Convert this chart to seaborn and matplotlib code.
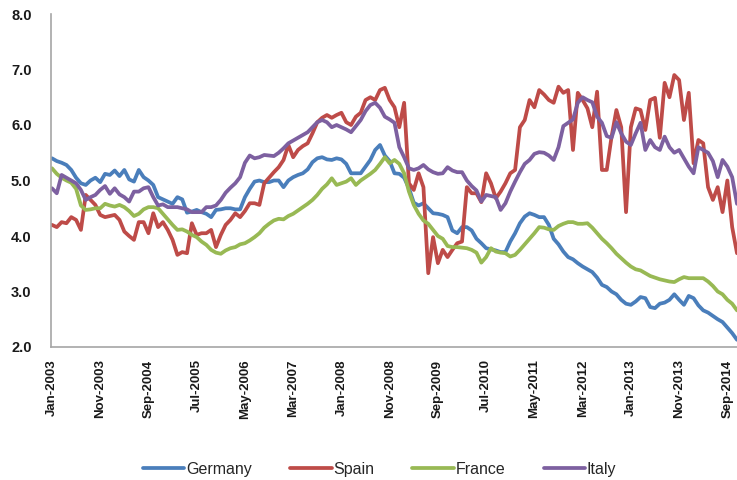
import numpy as np
import pandas as pd
import matplotlib
matplotlib.use("Agg")
import matplotlib.pyplot as plt
import seaborn as sns

# Monthly series, Jan-2003 onwards
months = pd.date_range("2003-01-01", periods=143, freq="MS").strftime("%b-%Y").tolist()

germany = [
    5.40, 5.35, 5.32, 5.28, 5.19, 5.05, 4.95, 4.92, 5.00, 5.05,
    4.97, 5.12, 5.10, 5.18, 5.08, 5.19, 5.02, 4.98, 5.19, 5.06,
    5.00, 4.92, 4.70, 4.66, 4.62, 4.58, 4.70, 4.66, 4.42, 4.44,
    4.47, 4.43, 4.40, 4.34, 4.47, 4.48, 4.50, 4.50, 4.48, 4.48,
    4.70, 4.85, 4.98, 5.00, 4.97, 4.97, 5.00, 5.00, 4.88, 5.00,
    5.06, 5.10, 5.13, 5.20, 5.33, 5.40, 5.42, 5.38, 5.37, 5.40,
    5.38, 5.30, 5.13, 5.13, 5.13, 5.25, 5.37, 5.55, 5.64, 5.45,
    5.35, 5.13, 5.12, 5.05, 4.86, 4.60, 4.55, 4.59, 4.50, 4.41,
    4.40, 4.38, 4.34, 4.10, 4.05, 4.16, 4.16, 4.10, 3.95, 3.87,
    3.78, 3.76, 3.74, 3.71, 3.71, 3.90, 4.05, 4.23, 4.35, 4.41,
    4.38, 4.34, 4.34, 4.20, 3.95, 3.85, 3.72, 3.62, 3.58, 3.51,
    3.45, 3.40, 3.35, 3.25, 3.12, 3.08, 3.00, 2.95, 2.85, 2.78,
    2.76, 2.82, 2.90, 2.88, 2.72, 2.70, 2.78, 2.80, 2.85, 2.95,
    2.85, 2.76, 2.92, 2.88, 2.75, 2.66, 2.62, 2.56, 2.50, 2.45,
    2.35, 2.25, 2.13,
]

spain = [
    4.20, 4.16, 4.25, 4.23, 4.34, 4.29, 4.11, 4.74, 4.65, 4.56,
    4.38, 4.34, 4.36, 4.38, 4.29, 4.08, 4.00, 3.93, 4.25, 4.25,
    4.05, 4.41, 4.16, 4.25, 4.11, 3.93, 3.66, 3.71, 3.69, 4.23,
    4.02, 4.05, 4.05, 4.11, 3.80, 4.02, 4.20, 4.29, 4.41, 4.34,
    4.45, 4.59, 4.59, 4.56, 4.95, 5.05, 5.15, 5.24, 5.37, 5.64,
    5.42, 5.55, 5.62, 5.67, 5.85, 6.05, 6.13, 6.18, 6.13, 6.18,
    6.22, 6.05, 6.00, 6.15, 6.22, 6.45, 6.50, 6.45, 6.63, 6.67,
    6.45, 6.32, 5.96, 6.40, 4.95, 4.83, 5.13, 4.88, 3.33, 3.98,
    3.51, 3.75, 3.62, 3.75, 3.87, 3.90, 4.88, 4.77, 4.77, 4.61,
    5.13, 4.95, 4.68, 4.80, 4.95, 5.13, 5.19, 5.96, 6.09, 6.45,
    6.32, 6.63, 6.55, 6.45, 6.40, 6.69, 6.58, 6.63, 5.55, 6.58,
    6.45, 6.30, 5.96, 6.60, 5.19, 5.19, 5.79, 6.27, 5.96, 4.43,
    5.96, 6.30, 6.27, 5.91, 6.45, 6.49, 5.77, 6.76, 6.50, 6.90,
    6.81, 6.09, 6.58, 5.31, 5.73, 5.67, 4.88, 4.65, 4.88, 4.43,
    5.00, 4.16, 3.69,
]

france = [
    5.22, 5.12, 5.05, 5.00, 4.96, 4.85, 4.55, 4.47, 4.48, 4.50,
    4.50, 4.58, 4.55, 4.53, 4.56, 4.52, 4.45, 4.36, 4.40, 4.48,
    4.52, 4.52, 4.50, 4.40, 4.30, 4.20, 4.11, 4.12, 4.08, 4.02,
    3.98, 3.90, 3.84, 3.75, 3.70, 3.68, 3.74, 3.78, 3.80, 3.85,
    3.87, 3.92, 3.98, 4.05, 4.15, 4.22, 4.28, 4.31, 4.30, 4.36,
    4.40, 4.46, 4.52, 4.58, 4.65, 4.74, 4.85, 4.93, 5.04, 4.92,
    4.95, 4.98, 5.04, 4.92, 5.00, 5.06, 5.12, 5.19, 5.30, 5.42,
    5.31, 5.37, 5.30, 5.13, 4.80, 4.56, 4.40, 4.28, 4.22, 4.11,
    4.00, 3.95, 3.82, 3.80, 3.80, 3.79, 3.78, 3.75, 3.70, 3.52,
    3.62, 3.78, 3.72, 3.70, 3.69, 3.63, 3.66, 3.75, 3.85, 3.95,
    4.05, 4.16, 4.15, 4.12, 4.11, 4.18, 4.22, 4.25, 4.25, 4.22,
    4.22, 4.23, 4.15, 4.05, 3.95, 3.87, 3.78, 3.68, 3.60, 3.52,
    3.45, 3.40, 3.38, 3.33, 3.28, 3.25, 3.22, 3.20, 3.18, 3.17,
    3.22, 3.26, 3.24, 3.24, 3.24, 3.24, 3.18, 3.10, 3.00, 2.95,
    2.85, 2.78, 2.66,
]

italy = [
    4.86, 4.77, 5.10, 5.05, 5.00, 4.95, 4.83, 4.65, 4.70, 4.74,
    4.83, 4.90, 4.76, 4.86, 4.75, 4.70, 4.62, 4.80, 4.80, 4.86,
    4.88, 4.70, 4.55, 4.57, 4.52, 4.52, 4.52, 4.50, 4.48, 4.43,
    4.43, 4.43, 4.52, 4.52, 4.55, 4.65, 4.78, 4.87, 4.95, 5.06,
    5.32, 5.45, 5.40, 5.42, 5.46, 5.45, 5.44, 5.50, 5.58, 5.67,
    5.72, 5.77, 5.82, 5.87, 5.96, 6.05, 6.09, 6.05, 5.96, 6.00,
    5.96, 5.92, 5.87, 5.98, 6.09, 6.25, 6.36, 6.40, 6.31, 6.15,
    6.10, 6.04, 5.60, 5.42, 5.22, 5.19, 5.22, 5.28, 5.20, 5.15,
    5.12, 5.13, 5.24, 5.18, 5.15, 5.15, 5.00, 4.90, 4.82, 4.62,
    4.74, 4.72, 4.70, 4.47, 4.59, 4.80, 4.98, 5.15, 5.30, 5.37,
    5.48, 5.51, 5.50, 5.45, 5.37, 5.60, 5.98, 6.04, 6.10, 6.40,
    6.50, 6.45, 6.41, 6.15, 6.04, 5.80, 5.77, 6.05, 5.85, 5.70,
    5.64, 5.85, 6.04, 5.55, 5.73, 5.60, 5.55, 5.79, 5.60, 5.50,
    5.55, 5.40, 5.25, 5.13, 5.60, 5.55, 5.50, 5.35, 5.06, 5.37,
    5.25, 5.06, 4.58,
]

countries = ["Germany", "Spain", "France", "Italy"]
colors = ["#4A7EBB", "#BE4B48", "#98B954", "#7D60A0"]

tick_labels = ["Jan-2003", "Nov-2003", "Sep-2004", "Jul-2005", "May-2006",
               "Mar-2007", "Jan-2008", "Nov-2008", "Sep-2009", "Jul-2010",
               "May-2011", "Mar-2012", "Jan-2013", "Nov-2013", "Sep-2014"]
y_ticks = [2.0, 3.0, 4.0, 5.0, 6.0, 7.0, 8.0]

series = {"Germany": germany, "Spain": spain, "France": france, "Italy": italy}
frames = []
for name in countries:
    vals = series[name]
    frames.append(pd.DataFrame({"idx": np.arange(len(vals)),
                                "month": months[:len(vals)],
                                "value": vals,
                                "country": name}))
df = pd.concat(frames, ignore_index=True)

sns.set_theme(style="white")
plt.rcParams["font.family"] = ["Liberation Sans", "DejaVu Sans"]

fig = plt.figure(figsize=(7.37, 4.80), dpi=100)
ax = fig.add_axes([51 / 737, 133 / 480, 1 - 51 / 737, 333 / 480])

sns.lineplot(data=df, x="idx", y="value", hue="country", hue_order=countries,
             palette=dict(zip(countries, colors)), linewidth=2.7, ax=ax,
             legend=False)

ax.set_xlim(-0.2, 142.0)
ax.set_ylim(2.0, 8.0)
ax.set_yticks(y_ticks)
ax.set_yticklabels([f"{v:.1f}" for v in y_ticks], fontsize=10.5, fontweight="bold")
tick_pos = [months.index(t) for t in tick_labels]
ax.set_xticks(tick_pos)
ax.set_xticklabels(tick_labels, rotation=90, fontsize=9.5, fontweight="bold")
ax.set_xlabel("")
ax.set_ylabel("")

for side in ("top", "right"):
    ax.spines[side].set_visible(False)
for side in ("left", "bottom"):
    ax.spines[side].set_color("#A6A6A6")
    ax.spines[side].set_linewidth(1.2)
ax.tick_params(axis="both", which="both", direction="out", length=5,
               width=1.0, color="#A6A6A6", labelcolor="#1a1a1a")
ax.tick_params(axis="y", pad=9)
ax.tick_params(axis="x", pad=4)
ax.grid(False)

handles = [plt.Line2D([], [], color=c, lw=2.7) for c in colors]
fig.legend(handles, countries, loc="center", bbox_to_anchor=(0.515, 0.022),
           ncol=4, frameon=False, handlelength=2.6, handletextpad=0.1,
           columnspacing=2.4, fontsize=11.5)

fig.savefig("out.png", dpi=100)
